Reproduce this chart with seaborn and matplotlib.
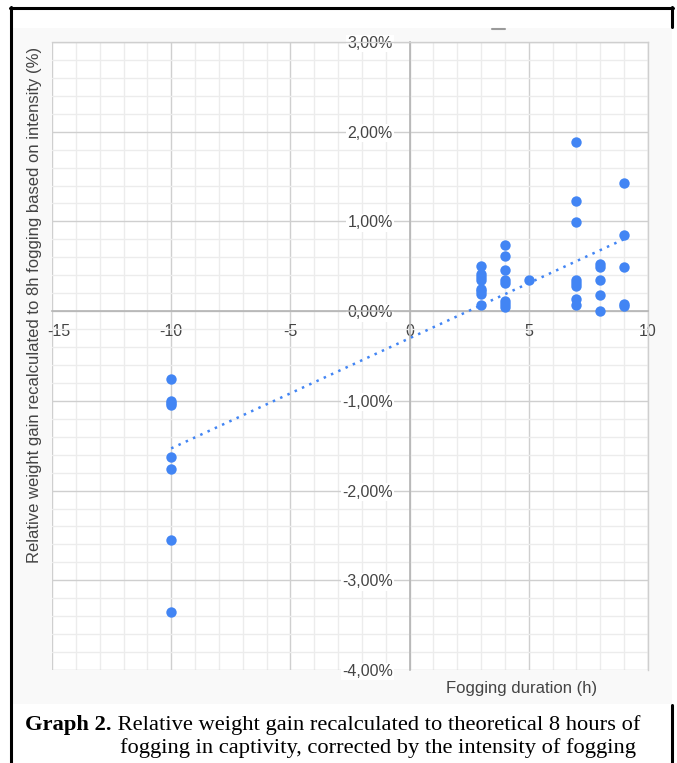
import matplotlib
matplotlib.use("Agg")
import matplotlib.pyplot as plt
import matplotlib.transforms as mtransforms
from matplotlib.ticker import MultipleLocator, FixedLocator, FuncFormatter
from matplotlib.lines import Line2D
from matplotlib.patches import Rectangle
import seaborn as sns
import pandas as pd

# ---- data ----
fog_hours = ([3] * 8 + [4] * 8 + [5] + [7] * 8 + [8] * 5 + [9] * 5 + [-10] * 8)
weight_gain = [
    0.50, 0.41, 0.38, 0.343, 0.25, 0.225, 0.196, 0.066,          # x=3
    0.742, 0.62, 0.454, 0.343, 0.314, 0.11, 0.077, 0.048,        # x=4
    0.343,                                                       # x=5
    1.886, 1.229, 0.989, 0.343, 0.314, 0.28, 0.133, 0.066,       # x=7
    0.528, 0.49, 0.35, 0.177, 0.0,                               # x=8
    1.432, 0.849, 0.49, 0.085, 0.055,                            # x=9
    -0.758, -1.0, -1.02, -1.05, -1.631, -1.754, -2.553, -3.359,  # x=-10
]
x_ticks = [-15, -10, -5, 0, 5, 10]
x_tick_labels = ["-15", "-10", "-5", "0", "5", "10"]
y_ticks = [3, 2, 1, 0, -1, -2, -3, -4]

x_title = "Fogging duration (h)"
y_title = "Relative weight gain recalculated to 8h fogging based on intensity (%)"
caption_bold = "Graph 2."
caption_line1 = " Relative weight gain recalculated to theoretical 8 hours of"
caption_line2 = "fogging in captivity, corrected by the intensity of fogging"

df = pd.DataFrame({"x": fog_hours, "y": weight_gain})

sns.set_theme(style="white")
plt.rcParams["font.family"] = ["Liberation Sans", "DejaVu Sans"]

W, H = 677, 763
fig = plt.figure(figsize=(W / 100, H / 100), dpi=100)
fig.patch.set_facecolor("white")

def fx(px):
    return px / W

def fy(py):
    return 1 - py / H

# screenshot background
fig.add_artist(Rectangle((fx(12), fy(704)), fx(660), (704 - 28) / H,
                         transform=fig.transFigure, facecolor="#f9f9f9",
                         edgecolor="none", zorder=0))

ax = fig.add_axes([fx(52), fy(670), fx(596), (670 - 42) / H])
ax.set_facecolor("white")
blue = "#4285F4"

sns.regplot(data=df, x="x", y="y", ax=ax, scatter=False, ci=None,
            truncate=True,
            line_kws=dict(color=blue, linestyle=(0, (1, 2.2)), linewidth=1.8,
                          zorder=3))
sns.scatterplot(data=df, x="x", y="y", ax=ax, color=blue, s=56,
                edgecolor=blue, linewidth=0, zorder=4, legend=False)

ax.set_xlim(-15, 10)
ax.set_ylim(-4, 3)
ax.xaxis.set_major_locator(FixedLocator(x_ticks))
ax.xaxis.set_minor_locator(MultipleLocator(1))
ax.yaxis.set_major_locator(FixedLocator(y_ticks))
ax.yaxis.set_minor_locator(MultipleLocator(0.2))
ax.set_xticklabels(x_tick_labels)
ax.yaxis.set_major_formatter(
    FuncFormatter(lambda v, p: ("%.2f%%" % v).replace(".", ",")))

ax.grid(True, which="major", color="#cfcfcf", linewidth=1.0, zorder=0)
ax.grid(True, which="minor", color="#ececec", linewidth=1.0, zorder=0)
ax.set_axisbelow(True)

for side in ["top", "right"]:
    ax.spines[side].set_color("#cfcfcf")
    ax.spines[side].set_linewidth(1.0)
ax.spines["left"].set_position(("data", 0))
ax.spines["bottom"].set_position(("data", 0))
for side in ["left", "bottom"]:
    ax.spines[side].set_color("#b5b5b5")
    ax.spines[side].set_linewidth(1.2)

ax.tick_params(axis="both", which="both", length=0)
ax.tick_params(axis="y", pad=12, labelsize=11.5, labelcolor="#444444")
ax.tick_params(axis="x", pad=9, labelsize=11.5, labelcolor="#444444")
for lab in ax.get_yticklabels():
    lab.set_bbox(dict(facecolor="white", edgecolor="none", pad=1.0))
# the first x label sits clipped against the left edge in the reference
first = ax.get_xticklabels()[0]
first.set_transform(first.get_transform() +
                    mtransforms.ScaledTranslation(7 / 100, 0, fig.dpi_scale_trans))
ax.set_xlabel("")
ax.set_ylabel("")

fig.text(fx(35), fy(305), y_title, rotation=90, ha="center", va="center",
         fontsize=12, color="#444444")
fig.text(fx(522), fy(688), x_title, ha="center", va="center",
         fontsize=12, color="#444444")

# caption
serif = ["Liberation Serif", "DejaVu Serif"]
cap_fs = 16.2
t1 = fig.text(fx(25), fy(725), caption_bold, ha="left", va="center",
              fontsize=cap_fs, fontweight="bold", family=serif, color="black")
fig.canvas.draw()
bb = t1.get_window_extent()
fig.text(bb.x1 / W, fy(725), caption_line1, ha="left", va="center",
         fontsize=cap_fs, family=serif, color="black")
fig.text(fx(120), fy(748), caption_line2, ha="left", va="center",
         fontsize=cap_fs, family=serif, color="black")

# frame lines of the original document
lk = dict(transform=fig.transFigure, color="black", linewidth=2.2, zorder=10)
fig.add_artist(Line2D([fx(11), fx(11)], [fy(7), fy(763)], **lk))
fig.add_artist(Line2D([fx(10), fx(673)], [fy(8), fy(8)], **lk))
fig.add_artist(Line2D([fx(672), fx(672)], [fy(7), fy(27)], **lk))
fig.add_artist(Line2D([fx(672), fx(672)], [fy(705), fy(763)], **lk))
# small dash of a cut-off title
fig.add_artist(Line2D([fx(492), fx(505)], [fy(29), fy(29)],
                      transform=fig.transFigure, color="#9a9a9a",
                      linewidth=1.5, zorder=10))

fig.savefig("out.png", dpi=100)
